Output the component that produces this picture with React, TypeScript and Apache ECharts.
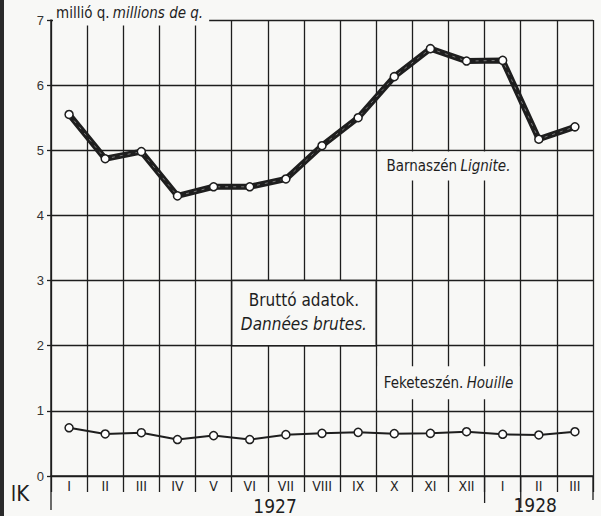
import React, { useEffect, useRef } from "react";
import * as echarts from "echarts";

const months = ["I", "II", "III", "IV", "V", "VI", "VII", "VIII", "IX", "X", "XI", "XII", "I", "II", "III"];
const lignite = [5.55, 4.87, 4.98, 4.3, 4.44, 4.44, 4.56, 5.07, 5.5, 6.13, 6.56, 6.37, 6.38, 5.17, 5.36];
const hardCoal = [0.74, 0.645, 0.665, 0.56, 0.62, 0.56, 0.635, 0.655, 0.67, 0.65, 0.655, 0.68, 0.64, 0.63, 0.68];
const years = ["1927", "1928"];
const yMin = 0;
const yMax = 7;
const yStep = 1;

export default function App() {
  const ref = useRef<HTMLDivElement>(null);
  useEffect(() => {
    document.body.style.margin = "0";
    const chart = echarts.init(ref.current!, null, { renderer: "svg" });
    const narrow = "'Liberation Sans Narrow', 'DejaVu Sans Condensed', sans-serif";
    const reg = "'Liberation Sans', sans-serif";
    const ink = "#1e1e1e";
    const bg = "#f8f8f6";
    const gridLine = { color: ink, width: 1.3 };
    chart.setOption({
      animation: false,
      backgroundColor: bg,
      grid: { left: 51, right: 8, top: 20, bottom: 40, containLabel: false },
      xAxis: {
        type: "category",
        data: months,
        boundaryGap: true,
        axisLine: { show: true, lineStyle: { color: ink, width: 1.5 } },
        axisTick: { show: true, length: 16, interval: 0, lineStyle: gridLine },
        axisLabel: { interval: 0, margin: 3, color: ink, fontSize: 14, fontFamily: narrow },
        splitLine: { show: true, interval: 0, lineStyle: gridLine },
      },
      yAxis: {
        type: "value",
        min: yMin,
        max: yMax,
        interval: yStep,
        axisLine: { show: true, lineStyle: { color: ink, width: 1.5 } },
        axisTick: { show: true, length: 4, lineStyle: gridLine },
        axisLabel: { margin: 7, color: "#333", fontSize: 13, fontFamily: reg },
        splitLine: { show: true, lineStyle: gridLine },
      },
      series: [
        {
          type: "line",
          data: lignite,
          showSymbol: false,
          lineStyle: { color: ink, width: 6 },
          z: 2,
        },
        {
          type: "line",
          data: lignite,
          showSymbol: false,
          lineStyle: { color: "#777", width: 1, type: [3, 5] },
          z: 3,
        },
        {
          type: "line",
          data: lignite,
          symbol: "circle",
          symbolSize: 8,
          lineStyle: { width: 0, opacity: 0 },
          itemStyle: { color: "#fff", borderColor: ink, borderWidth: 1.5 },
          z: 4,
        },
        {
          type: "line",
          data: hardCoal,
          symbol: "circle",
          symbolSize: 8,
          lineStyle: { color: ink, width: 2 },
          itemStyle: { color: "#fff", borderColor: ink, borderWidth: 1.5 },
          z: 4,
        },
      ],
    });

    const px = (i: number, v: number) => chart.convertToPixel({ gridIndex: 0 }, [i, v]) as number[];
    const c0 = px(0, 0)[0];
    const bw = px(1, 0)[0] - c0;
    const bx = (k: number) => c0 + (k - 0.5) * bw;
    const cx = (p: number) => c0 + p * bw;
    const y0 = px(0, 0)[1];
    const y2 = px(0, 2)[1];
    const y3 = px(0, 3)[1];
    const y7 = px(0, 7)[1];
    const lineStyle = { stroke: ink, lineWidth: 1.3 };

    chart.setOption({
      graphic: [
        { type: "rect", shape: { x: 0, y: 0, width: 4, height: 516 }, style: { fill: "#2a2a2a" }, z: 100 },
        {
          type: "text",
          z: 100,
          style: {
            x: 53,
            y: y7 - 6,
            text: "{a|millió q.} {b|millions de q.}",
            verticalAlign: "middle",
            backgroundColor: bg,
            padding: [3, 6, 5, 3],
            rich: {
              a: { fontSize: 15, fontFamily: narrow, fill: ink, color: ink },
              b: { fontSize: 15, fontFamily: narrow, fontStyle: "italic", fill: ink, color: ink },
            },
          },
        },
        {
          type: "rect",
          z: 100,
          shape: { x: bx(5), y: y3, width: bx(9) - bx(5), height: y2 - y3 },
          style: { fill: bg, stroke: ink, lineWidth: 1.5 },
        },
        {
          type: "text",
          z: 101,
          style: {
            x: bx(7),
            y: y3 + 19,
            text: "Bruttó adatok.",
            align: "center",
            verticalAlign: "middle",
            font: `17px ${narrow}`,
            fill: ink,
          },
        },
        {
          type: "text",
          z: 101,
          style: {
            x: bx(7),
            y: y3 + 43,
            text: "Dannées brutes.",
            align: "center",
            verticalAlign: "middle",
            font: `italic 17px ${narrow}`,
            fill: ink,
          },
        },
        {
          type: "text",
          z: 100,
          style: {
            x: bx(11),
            y: px(0, 4.76)[1],
            text: "{a|Barnaszén} {b|Lignite.}",
            align: "center",
            verticalAlign: "middle",
            backgroundColor: bg,
            padding: [7, 6],
            rich: {
              a: { fontSize: 15, fontFamily: narrow, fill: ink, color: ink },
              b: { fontSize: 15, fontFamily: narrow, fontStyle: "italic", fill: ink, color: ink },
            },
          },
        },
        {
          type: "text",
          z: 100,
          style: {
            x: bx(11),
            y: px(0, 1.43)[1],
            text: "{a|Feketeszén.} {b|Houille}",
            align: "center",
            verticalAlign: "middle",
            backgroundColor: bg,
            padding: [9, 6],
            rich: {
              a: { fontSize: 15, fontFamily: narrow, fill: ink, color: ink },
              b: { fontSize: 15, fontFamily: narrow, fontStyle: "italic", fill: ink, color: ink },
            },
          },
        },
        {
          type: "text",
          z: 100,
          style: { x: cx(5.7), y: y0 + 30, text: years[0], align: "center", verticalAlign: "middle", font: `19px ${narrow}`, fill: ink },
        },
        {
          type: "text",
          z: 100,
          style: { x: cx(12.9), y: y0 + 29, text: years[1], align: "center", verticalAlign: "middle", font: `19px ${narrow}`, fill: ink },
        },
        { type: "line", z: 100, shape: { x1: bx(0), y1: y0, x2: bx(0), y2: y0 + 34 }, style: lineStyle },
        { type: "line", z: 100, shape: { x1: bx(12), y1: y0, x2: bx(12), y2: y0 + 27 }, style: lineStyle },
        { type: "line", z: 100, shape: { x1: bx(13), y1: y0, x2: bx(13), y2: y0 + 32 }, style: lineStyle },
        { type: "line", z: 100, shape: { x1: bx(15), y1: y0, x2: bx(15), y2: y0 + 24 }, style: lineStyle },
        {
          type: "text",
          z: 100,
          style: { x: 20, y: y0 + 17, text: "lK", align: "center", verticalAlign: "middle", font: `22px ${narrow}`, fill: ink },
        },
      ],
    });
    return () => chart.dispose();
  }, []);
  return <div ref={ref} style={{ width: 601, height: 516 }} />;
}
